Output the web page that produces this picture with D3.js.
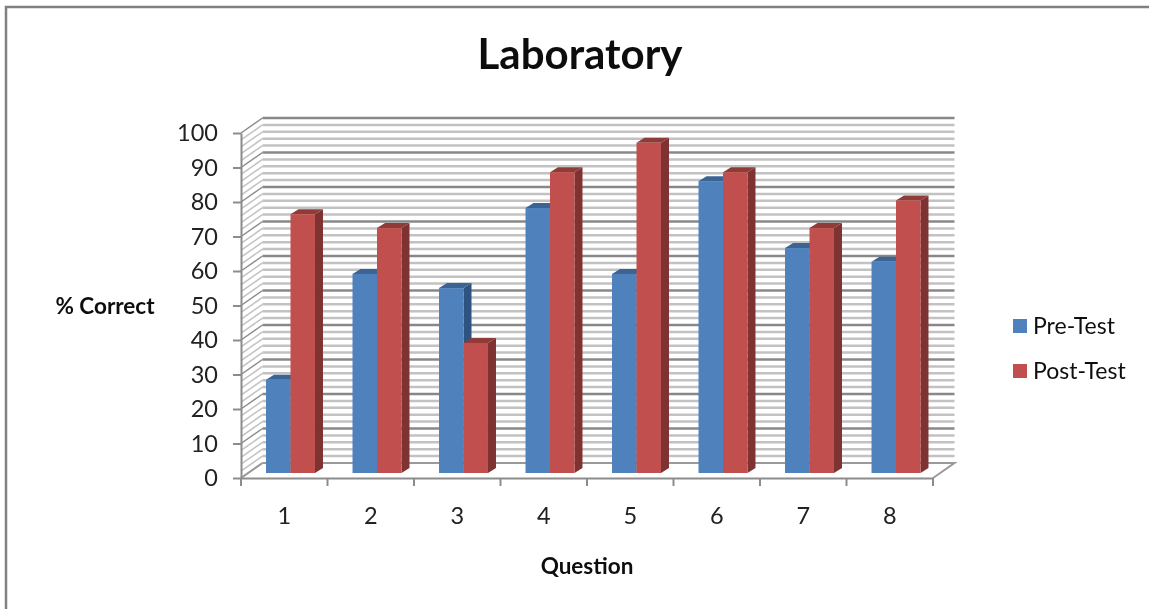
<!DOCTYPE html>
<html>
<head>
<meta charset="utf-8">
<style>
body { margin: 0; background: #fff; }
text { font-family: Lato, sans-serif; fill: #111; }
.axis path, .axis line { stroke: #8c8c8c; stroke-width: 2px; }
.axis text { font-size: 23.5px; fill: #222; }
</style>
</head>
<body>
<svg width="1149" height="609"></svg>
<script src="https://d3js.org/d3.v7.min.js"></script>
<script>
var categories = ["1", "2", "3", "4", "5", "6", "7", "8"];
var seriesNames = ["Pre-Test", "Post-Test"];
var preTest = [27, 57.7, 53.6, 76.8, 57.7, 84.6, 65.2, 61.2];
var postTest = [75, 71, 37.7, 87.2, 95.7, 87.2, 71, 79];
var yTicks = [0, 10, 20, 30, 40, 50, 60, 70, 80, 90, 100];
var gridValues = d3.range(0, 101, 2);

var frontColors = ["#4f81bd", "#c0504d"],
    sideColors = ["#2f5380", "#7e3230"],
    topColors = ["#3b6494", "#8f3a37"];

var svg = d3.select("svg");

// the source image is a slightly soft screenshot
var soft = svg.append("defs").append("filter")
    .attr("id", "soft")
    .attr("x", 0).attr("y", 0)
    .attr("width", 1).attr("height", 1);
soft.append("feGaussianBlur").attr("stdDeviation", 0.6);

var root = svg.append("g").attr("filter", "url(#soft)");

root.append("rect").attr("width", 1149).attr("height", 609).attr("fill", "#fff");

// chart frame, only the top and left edges are in the picture
root.append("path")
    .attr("d", "M6,609V7H1149")
    .attr("fill", "none")
    .attr("stroke", "#808080")
    .attr("stroke-width", 2.5);

var x = d3.scaleBand().domain(categories).range([241, 933]).paddingInner(0.434).paddingOuter(0.217),
    series = d3.scaleBand().domain(seriesNames).range([0, x.bandwidth()]),
    y = d3.scaleLinear().domain([0, 100]).range([478, 133]);

// 3d depth of the walls and of the bars
var wallDx = 21.5, wallDy = -15,
    barDx = 6.25, barDy = -5,
    depthDx = 8, depthDy = -5;

var isMajor = function(d) { return d % 10 === 0; };

var grid = root.append("g").attr("fill", "none");

// back wall lines
grid.selectAll(".back")
    .data(gridValues.slice(1))
    .enter().append("line")
    .attr("x1", 241 + wallDx)
    .attr("x2", 933 + wallDx)
    .attr("y1", function(d) { return y(d) + wallDy; })
    .attr("y2", function(d) { return y(d) + wallDy; })
    .attr("stroke", function(d) { return isMajor(d) ? "#888888" : "#c2c2c2"; })
    .attr("stroke-width", 2.5);

// side wall lines
grid.selectAll(".side")
    .data(gridValues)
    .enter().append("line")
    .attr("x1", 241)
    .attr("x2", 241 + wallDx)
    .attr("y1", function(d) { return y(d); })
    .attr("y2", function(d) { return y(d) + wallDy; })
    .attr("stroke", function(d) { return isMajor(d) ? "#8a8a8a" : "#c2c2c2"; })
    .attr("stroke-width", 1.5);

// floor
grid.append("path")
    .attr("d", "M" + (241 + wallDx) + "," + (y(0) + wallDy) + "H" + (933 + wallDx) + "L933," + y(0))
    .attr("stroke", "#9a9a9a")
    .attr("stroke-width", 2);
grid.append("line")
    .attr("x1", 241).attr("y1", y(0))
    .attr("x2", 241 + wallDx).attr("y2", y(0) + wallDy)
    .attr("stroke", "#9a9a9a")
    .attr("stroke-width", 2);

var barRows = [];
categories.forEach(function(c, i) {
  barRows.push({cat: c, s: 0, value: preTest[i]});
  barRows.push({cat: c, s: 1, value: postTest[i]});
});

var bars = root.selectAll(".bar")
    .data(barRows)
    .enter().append("g")
    .attr("class", "bar")
    .attr("transform", function(d) {
      return "translate(" + (x(d.cat) + series(seriesNames[d.s]) + barDx) + "," + barDy + ")";
    });

var w = series.bandwidth();

bars.append("path")
    .attr("fill", function(d) { return sideColors[d.s]; })
    .attr("d", function(d) {
      return "M" + w + "," + y(d.value) + "l" + depthDx + "," + depthDy + "V" + (y(0) + depthDy) + "l" + (-depthDx) + "," + (-depthDy) + "Z";
    });

bars.append("path")
    .attr("fill", function(d) { return topColors[d.s]; })
    .attr("d", function(d) {
      return "M0," + y(d.value) + "l" + depthDx + "," + depthDy + "h" + w + "l" + (-depthDx) + "," + (-depthDy) + "Z";
    });

bars.append("rect")
    .attr("y", function(d) { return y(d.value); })
    .attr("width", w)
    .attr("height", function(d) { return y(0) - y(d.value); })
    .attr("fill", function(d) { return frontColors[d.s]; });

// axes
var yAxis = root.append("g")
    .attr("class", "axis")
    .attr("transform", "translate(241,0)")
    .call(d3.axisLeft(y).tickValues(yTicks).tickSize(8).tickSizeOuter(0).tickPadding(15));

var xAxis = root.append("g")
    .attr("class", "axis")
    .attr("transform", "translate(0,478)")
    .call(d3.axisBottom(x).tickSize(0).tickPadding(29));

xAxis.selectAll(".boundary")
    .data(d3.range(0, categories.length + 1))
    .enter().append("line")
    .attr("class", "boundary")
    .attr("x1", function(d) { return 241 + d * x.step(); })
    .attr("x2", function(d) { return 241 + d * x.step(); })
    .attr("y1", 0)
    .attr("y2", 8);

// titles
root.append("text")
    .attr("x", 580).attr("y", 69)
    .attr("text-anchor", "middle")
    .style("font-size", "42px")
    .style("font-weight", 700)
    .text("Laboratory");

root.append("text")
    .attr("x", 105).attr("y", 314)
    .attr("text-anchor", "middle")
    .style("font-size", "22.5px")
    .style("font-weight", 700)
    .text("% Correct");

root.append("text")
    .attr("x", 587).attr("y", 574)
    .attr("text-anchor", "middle")
    .style("font-size", "22.5px")
    .style("font-weight", 700)
    .text("Question");

// legend
var legend = root.selectAll(".legend")
    .data(seriesNames)
    .enter().append("g")
    .attr("class", "legend")
    .attr("transform", function(d, i) { return "translate(1013," + (319 + i * 45) + ")"; });

legend.append("rect")
    .attr("width", 14)
    .attr("height", 14)
    .attr("fill", function(d, i) { return frontColors[i]; });

legend.append("text")
    .attr("x", 20)
    .attr("y", 15)
    .style("font-size", "23px")
    .text(function(d) { return d; });
</script>
</body>
</html>
